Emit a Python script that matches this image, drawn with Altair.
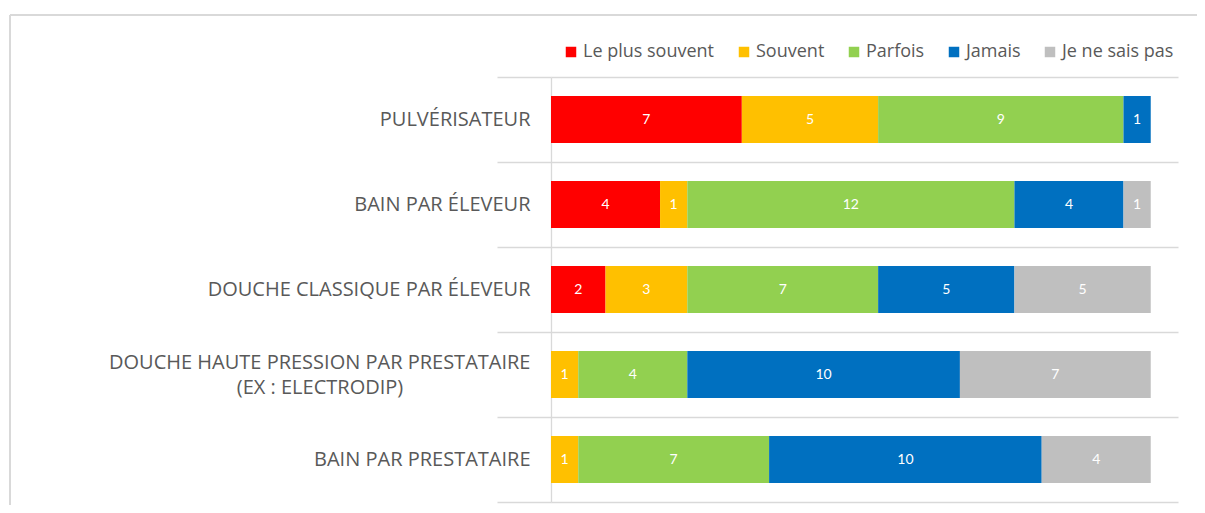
import altair as alt
import pandas as pd

categories = [
    "PULVÉRISATEUR",
    "BAIN PAR ÉLEVEUR",
    "DOUCHE CLASSIQUE PAR ÉLEVEUR",
    "DOUCHE HAUTE PRESSION PAR PRESTATAIRE\n(EX : ELECTRODIP)",
    "BAIN PAR PRESTATAIRE",
]
series = ["Le plus souvent", "Souvent", "Parfois", "Jamais", "Je ne sais pas"]
colors = ["#FF0000", "#FFC000", "#92D050", "#0070C0", "#BFBFBF"]

le_plus_souvent = [7, 4, 2, 0, 0]
souvent = [5, 1, 3, 1, 1]
parfois = [9, 12, 7, 4, 7]
jamais = [1, 4, 5, 10, 10]
je_ne_sais_pas = [0, 1, 5, 7, 4]

values = [le_plus_souvent, souvent, parfois, jamais, je_ne_sais_pas]
rows = []
for si, (s, vals) in enumerate(zip(series, values)):
    for c, v in zip(categories, vals):
        if v > 0:
            rows.append({"cat": c, "serie": s, "order": si, "value": v})
df = pd.DataFrame(rows)
cat_df = pd.DataFrame({"cat": categories})

FONT = "Lato"
CAT_FONT = "Open Sans"
GRAY = "#595959"
LINE = "#D9D9D9"

base = alt.Chart(df).transform_stack(
    stack="value", groupby=["cat"], as_=["x0", "x1"],
    sort=[alt.SortField("order", order="ascending")],
).transform_calculate(mid="(datum.x0 + datum.x1) / 2")

# axis shows single labels centred, and the first line of the two-line label
# lifted half a line; its second line is drawn centred below by a text layer
label_expr = (
    "indexof(datum.label, '\\n') >= 0 ? "
    "[split(datum.label, '\\n')[0]] : ['', datum.label]"
)

yenc = alt.Y(
    "cat:N", sort=categories, title=None,
    scale=alt.Scale(paddingInner=0, paddingOuter=0),
    axis=alt.Axis(
        tickBand="extent", grid=True, gridColor=LINE, gridWidth=1.3,
        domainColor=LINE, domainWidth=1.3, tickColor=LINE, tickWidth=1.3,
        tickSize=54, labelPadding=-33, labelOffset=-12,
        labelExpr=label_expr,
        labelFont=CAT_FONT, labelFontSize=20, labelColor=GRAY,
        labelLineHeight=12, labelLimit=600,
    ),
)
xscale = alt.Scale(domain=[0, 23], nice=False)

bars = base.mark_bar(size=47).encode(
    y=yenc,
    x=alt.X("x0:Q", scale=xscale, axis=None),
    x2="x1:Q",
    color=alt.Color(
        "serie:N",
        scale=alt.Scale(domain=series, range=colors),
        legend=alt.Legend(
            title=None, orient="none", direction="horizontal",
            legendX=11, legendY=-34, symbolType="square", symbolSize=110,
            symbolStrokeWidth=0, labelFont=CAT_FONT, labelFontSize=18,
            labelColor=GRAY, columnPadding=20, labelOffset=3,
        ),
    ),
)

texts = base.mark_text(color="white", font=FONT, fontSize=14).encode(
    y=alt.Y("cat:N", sort=categories),
    x=alt.X("mid:Q", scale=xscale),
    text="value:Q",
)

second_line = alt.Chart(cat_df).transform_filter(
    "indexof(datum.cat, '\\n') >= 0"
).transform_calculate(
    line2="split(datum.cat, '\\n')[1]"
).mark_text(
    font=CAT_FONT, fontSize=20, color=GRAY, align="center", baseline="middle", dy=13
).encode(
    y=alt.Y("cat:N", sort=categories),
    x=alt.value(-231),
    text="line2:N",
)

frame_data = alt.Data(values=[{"k": 1}])
frame_top = alt.Chart(frame_data).mark_rule(color=LINE, strokeWidth=2).encode(
    x=alt.value(-541), x2=alt.value(660), y=alt.value(-62)
)
frame_left = alt.Chart(frame_data).mark_rule(color=LINE, strokeWidth=2).encode(
    x=alt.value(-541), y=alt.value(-62), y2=alt.value(440)
)

chart = alt.layer(frame_top, frame_left, bars, texts, second_line).properties(
    width=627, height=425,
    autosize=alt.AutoSizeParams(type="none"),
    padding={"left": 543, "top": 69, "right": 19, "bottom": 3},
).configure_view(stroke=None)

chart.save("out.html", embed_options={"renderer": "svg", "actions": False})
